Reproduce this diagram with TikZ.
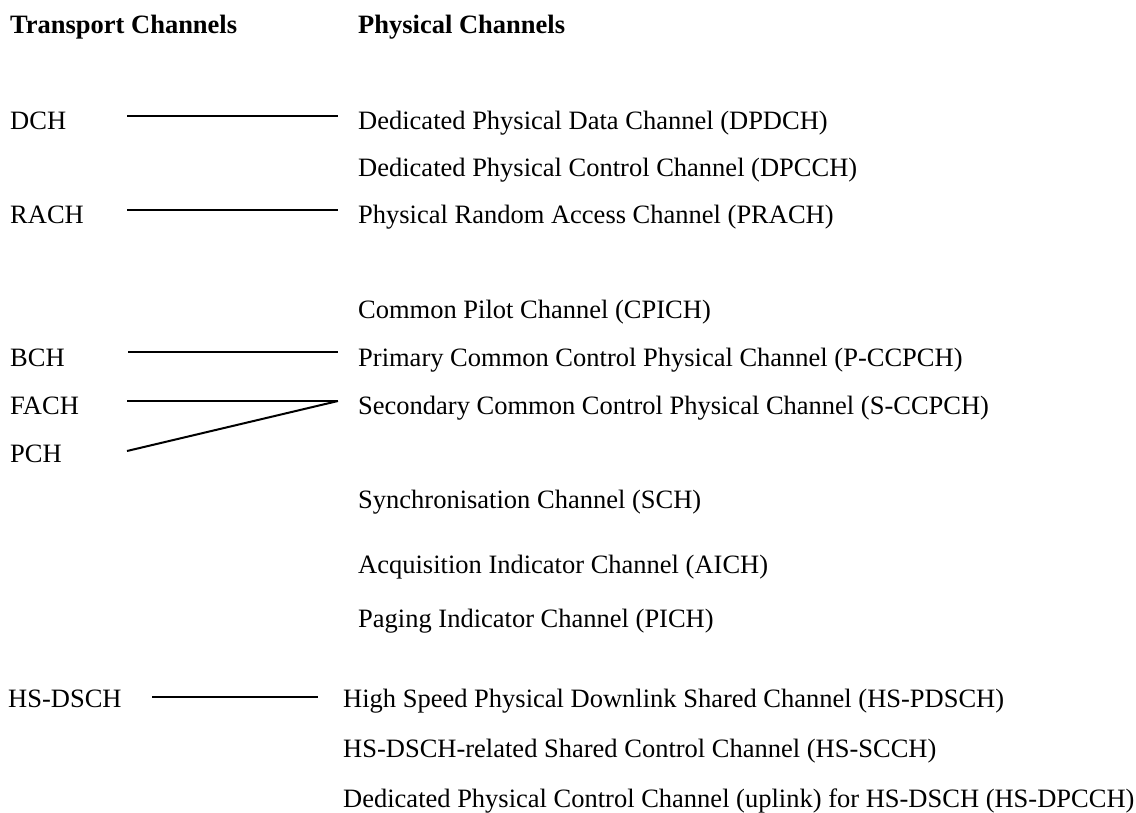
\documentclass[tikz,border=0pt]{standalone}
\usepackage{fontspec}
\setmainfont{Liberation Serif}
\begin{document}
\begin{tikzpicture}[x=1pt,y=-1pt,
        every node/.style={anchor=base west,inner sep=0pt,font=\fontsize{26.5}{30}\selectfont},
        head/.style={font=\fontsize{26.5}{30}\selectfont\bfseries},
        link/.style={line width=2pt}]
    \useasboundingbox (0,0) rectangle (1136,812);
    \node[head] (trhead) at (10,33) {Transport Channels};
    \node[head] (phhead) at (358,33) {Physical Channels};

    \node (dch)    at (10,129) {DCH};
    \node (rach)   at (10,223) {RACH};
    \node (bch)    at (10,366) {BCH};
    \node (fach)   at (10,414) {FACH};
    \node (pch)    at (10,462) {PCH};
    \node (hsdsch) at (8,707)  {HS-DSCH};

    \node (dpdch)   at (358,129) {Dedicated Physical Data Channel (DPDCH)};
    \node (dpcch)   at (358,176) {Dedicated Physical Control Channel (DPCCH)};
    \node (prach)   at (358,223) {Physical Random Access Channel (PRACH)};
    \node (cpich)   at (358,318) {Common Pilot Channel (CPICH)};
    \node (pccpch)  at (358,366) {Primary Common Control Physical Channel (P-CCPCH)};
    \node (sccpch)  at (358,414) {Secondary Common Control Physical Channel (S-CCPCH)};
    \node (sch)     at (358,508) {Synchronisation Channel (SCH)};
    \node (aich)    at (358,573) {Acquisition Indicator Channel (AICH)};
    \node (pich)    at (358,627) {Paging Indicator Channel (PICH)};
    \node (hspdsch) at (343,707) {High Speed Physical Downlink Shared Channel (HS-PDSCH)};
    \node (hsscch)  at (343,757) {HS-DSCH-related Shared Control Channel (HS-SCCH)};
    \node (hsdpcch) at (343,807) {Dedicated Physical Control Channel (uplink) for HS-DSCH (HS-DPCCH)};

    \coordinate (dch-a)     at (127,116);
    \coordinate (dpdch-a)   at (338,116);
    \coordinate (rach-a)    at (127,210);
    \coordinate (prach-a)   at (338,210);
    \coordinate (bch-a)     at (128,352);
    \coordinate (pccpch-a)  at (338,352);
    \coordinate (fach-a)    at (127,401);
    \coordinate (pch-a)     at (127,451);
    \coordinate (sccpch-a)  at (338,401);
    \coordinate (hsdsch-a)  at (152,697);
    \coordinate (hspdsch-a) at (318,697);

    \draw[link] (dch-a) -- (dpdch-a);
    \draw[link] (rach-a) -- (prach-a);
    \draw[link] (bch-a) -- (pccpch-a);
    \draw[link] (fach-a) -- (sccpch-a);
    \draw[link] (pch-a) -- (sccpch-a);
    \draw[link] (hsdsch-a) -- (hspdsch-a);
\end{tikzpicture}
\end{document}
